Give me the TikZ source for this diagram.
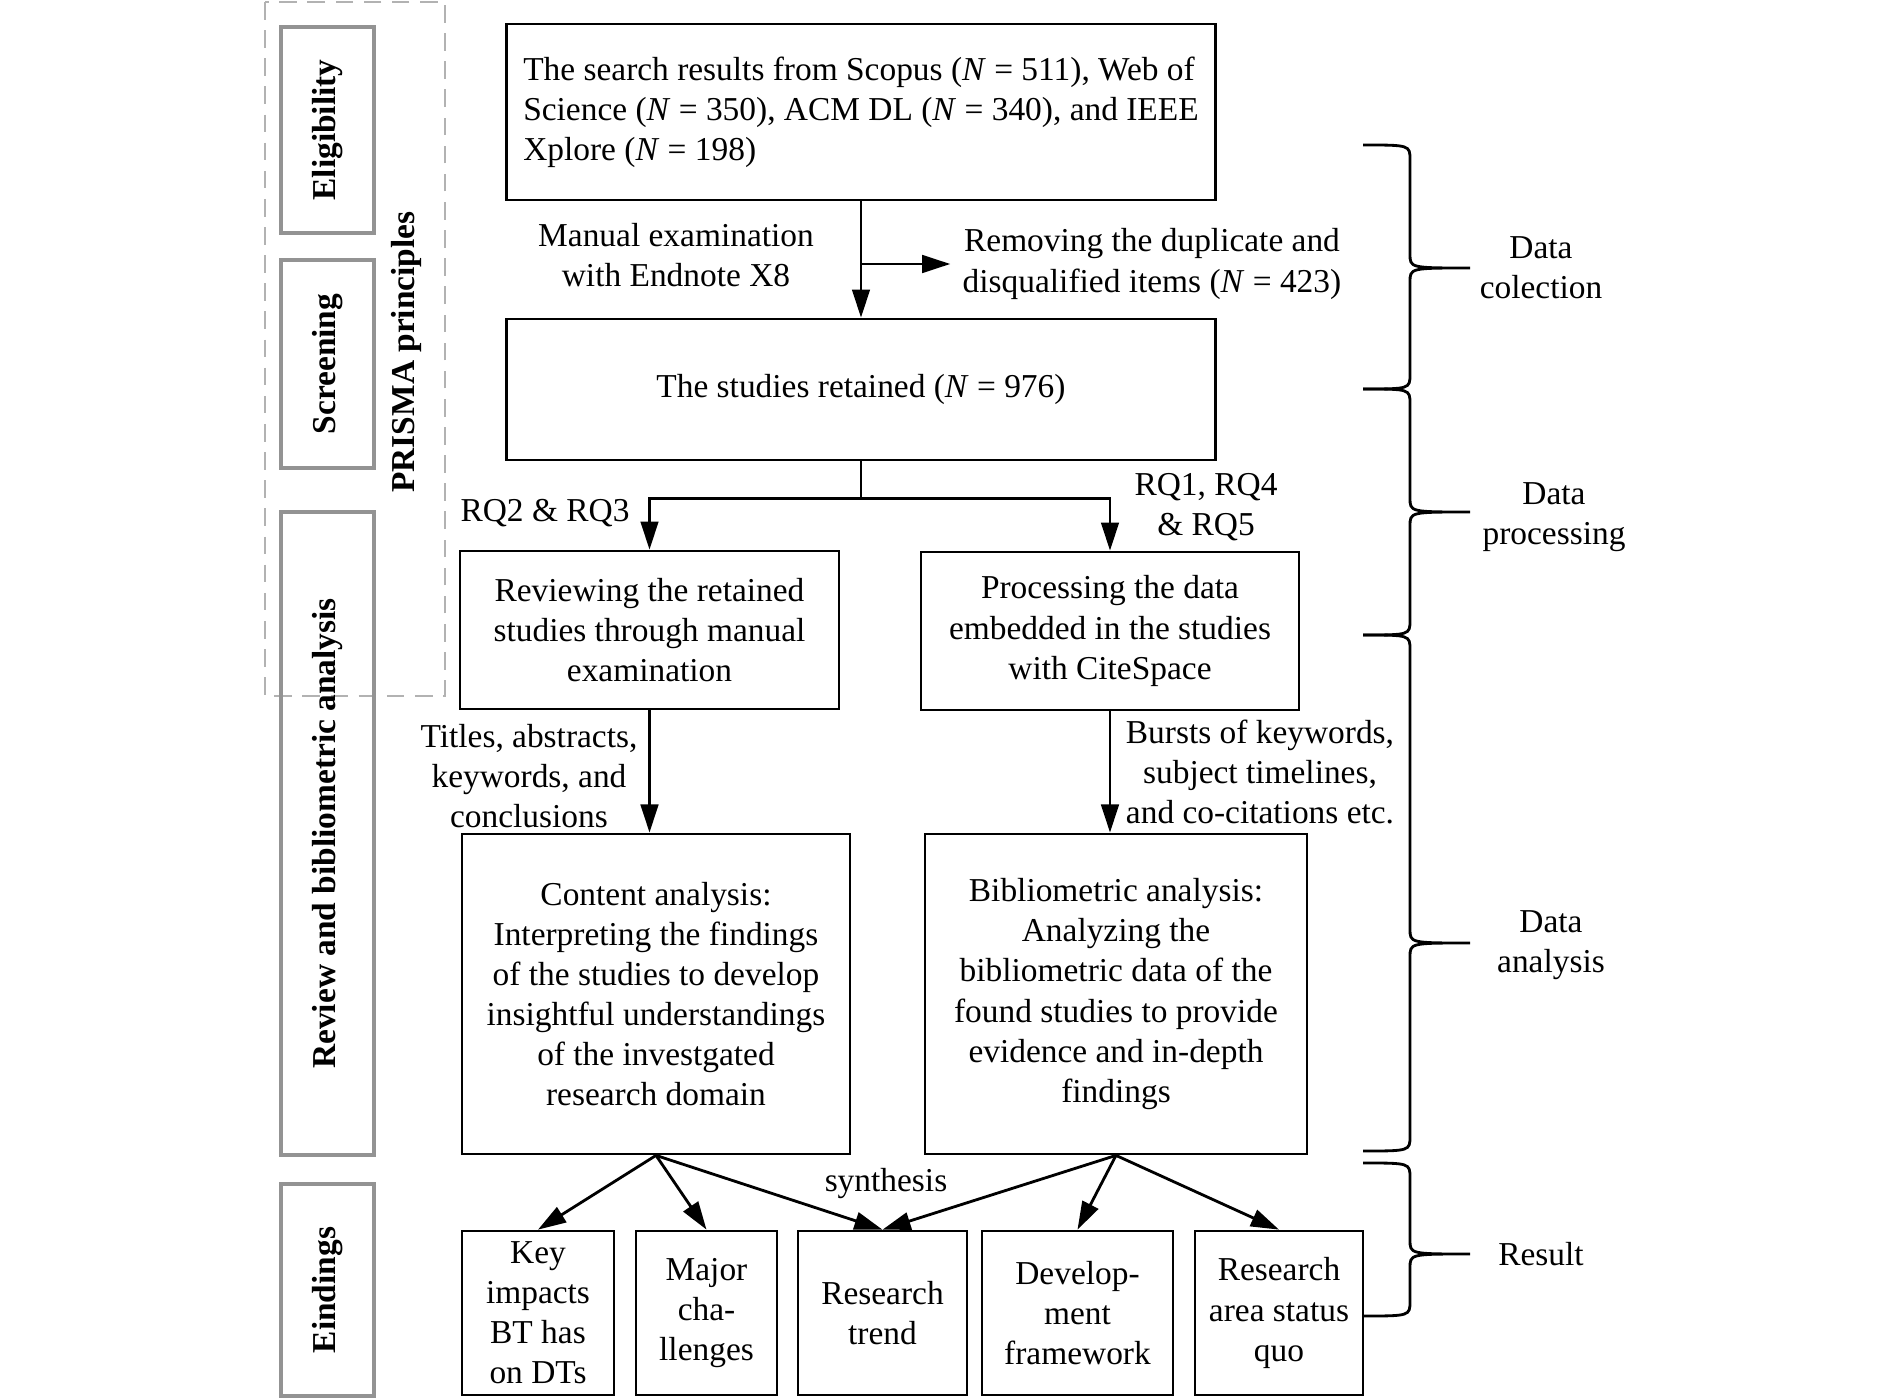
\documentclass[tikz,border=0pt]{standalone}
\usepackage{fontspec}
\setmainfont{Liberation Serif}
\usetikzlibrary{arrows.meta,positioning,calc}

\begin{document}
\begin{tikzpicture}[
  x=0.01cm, y=-0.01cm,
  every node/.style={font=\fontsize{9.5}{11.4}\selectfont},
  box/.style={draw, line width=0.75pt, align=center, inner sep=2pt},
  sidebox/.style={draw=gray!85, line width=1pt, rotate=90, minimum height=0.93cm,
    font=\fontsize{9.5}{11.4}\selectfont\bfseries},
  txt/.style={align=center},
  arr/.style={-{Triangle[length=8pt,width=5pt]}, line width=0.8pt},
  link/.style={line width=0.8pt},
  phase/.style={line width=0.8pt},
  dashframe/.style={draw=gray!60, dash pattern=on 5pt off 3pt, line width=0.8pt}
]
\useasboundingbox (0,0) rectangle (1890,1400);

% PRISMA side
\draw[dashframe] (265,2) rectangle (445,696);
\node[sidebox, minimum width=2.06cm] (elig) at (327.5,130) {Eligibility};
\node[sidebox, minimum width=2.08cm] (screen) at (327.5,364) {Screening};
\node[sidebox, minimum width=6.43cm] (revside) at (327.5,833.5) {Review and bibliometric analysis};
\node[sidebox, minimum width=2.12cm] (find) at (327.5,1290) {Eindings};
\node[rotate=90, font=\fontsize{9.5}{11.4}\selectfont\bfseries] (prisma) at (406,352) {PRISMA principles};

% Data collection
\node[box, align=left, minimum width=7.09cm, minimum height=1.76cm] (search) at (861,112)
  {The search results from Scopus (\textit{N} = 511), Web of\\Science (\textit{N} = 350), ACM DL (\textit{N} = 340), and IEEE\\Xplore (\textit{N} = 198)};
\node[txt] (manual) at (676,255) {Manual examination\\with Endnote X8};
\node[txt] (remove) at (1152,264) {Removing the duplicate and\\disqualified items (\textit{N} = 423)};
\node[box, minimum width=7.08cm, minimum height=1.41cm] (retained) at (861,389.5) {The studies retained (\textit{N} = 976)};

% Data processing
\node[box, minimum width=3.79cm, minimum height=1.58cm] (review) at (649.5,630)
  {Reviewing the retained\\studies through manual\\examination};
\node[box, minimum width=3.78cm, minimum height=1.58cm] (process) at (1110,631)
  {Processing the data\\embedded in the studies\\with CiteSpace};
\node[txt] (rq23) at (545,513) {RQ2 \& RQ3};
\node[txt] (rq145) at (1206,507) {RQ1, RQ4\\\& RQ5};

% Data analysis
\node[txt] (titles) at (529,776) {Titles, abstracts,\\keywords, and\\conclusions};
\node[txt] (bursts) at (1260,772) {Bursts of keywords,\\subject timelines,\\and co-citations etc.};
\node[box, minimum width=3.88cm, minimum height=3.2cm] (content) at (656,994)
  {Content analysis:\\Interpreting the findings\\of the studies to develop\\insightful understandings\\of the investgated\\research domain};
\node[box, minimum width=3.82cm, minimum height=3.2cm] (biblio) at (1116,994)
  {Bibliometric analysis:\\Analyzing the\\bibliometric data of the\\found studies to provide\\evidence and in-depth\\findings};

% Findings
\node[txt] (synth) at (886,1184) {synthesis};
\node[box, minimum width=1.52cm, minimum height=1.64cm] (key) at (538,1313) {Key\\impacts\\BT has\\on DTs};
\node[box, minimum width=1.41cm, minimum height=1.64cm] (major) at (706.5,1313) {Major\\cha-\\llenges};
\node[box, minimum width=1.69cm, minimum height=1.64cm] (trend) at (882.5,1313) {Research\\trend};
\node[box, minimum width=1.91cm, minimum height=1.64cm] (develop) at (1077.5,1313) {Develop-\\ment\\framework};
\node[box, minimum width=1.68cm, minimum height=1.64cm] (status) at (1279,1313) {Research\\area status\\quo};

% Flow
\draw[arr] (search.south) -- (retained.north);
\draw[arr] (search.south |- remove.west) -- (remove.west);
\draw[link] (retained.south) -- ++(0,37) coordinate (fork);
\draw[arr] (fork) -| (review.north);
\draw[arr] (fork) -| (process.north);
\draw[arr] (review.south) -- (review.south |- content.north);
\draw[arr] (process.south) -- (process.south |- biblio.north);

\draw[arr] (content.south) -- (key.north);
\draw[arr] (content.south) -- (major.north);
\draw[arr] (content.south) -- (trend.north);
\draw[arr] (biblio.south) -- (trend.north);
\draw[arr] (biblio.south) -- (develop.north);
\draw[arr] (biblio.south) -- (status.north);

% Phase braces
\draw[phase] (1363,145) .. controls (1410,145) .. (1410,160) -- (1410,254) .. controls (1410,268) .. (1470,268)
  (1470,268) .. controls (1410,268) .. (1410,282) -- (1410,374) .. controls (1410,389) .. (1363,389);
\draw[phase] (1363,389) .. controls (1410,389) .. (1410,404) -- (1410,498) .. controls (1410,512) .. (1470,512)
  (1470,512) .. controls (1410,512) .. (1410,526) -- (1410,620) .. controls (1410,635) .. (1363,635);
\draw[phase] (1363,635) .. controls (1410,635) .. (1410,650) -- (1410,929) .. controls (1410,943) .. (1470,943)
  (1470,943) .. controls (1410,943) .. (1410,957) -- (1410,1136) .. controls (1410,1151) .. (1363,1151);
\draw[phase] (1363,1163) .. controls (1410,1163) .. (1410,1178) -- (1410,1240) .. controls (1410,1254) .. (1470,1254)
  (1470,1254) .. controls (1410,1254) .. (1410,1268) -- (1410,1301) .. controls (1410,1316) .. (1363,1316);

\node[txt] (collect) at (1541,268) {Data\\colection};
\node[txt] (procs) at (1554,517) {Data\\processing};
\node[txt] (analy) at (1551,945) {Data\\analysis};
\node[txt] (result) at (1541,1254) {Result};

\end{tikzpicture}
\end{document}
